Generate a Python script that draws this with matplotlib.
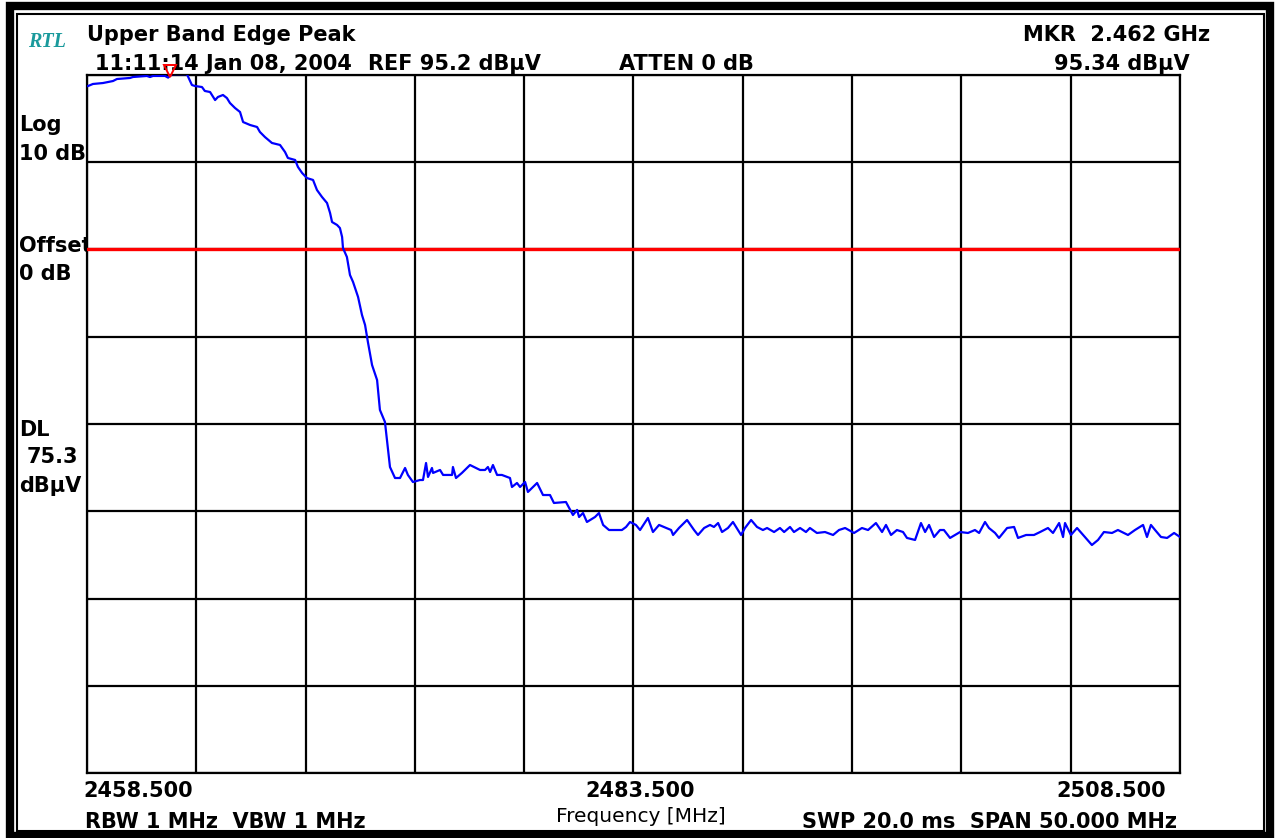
#!/usr/bin/env python3

import numpy as np
import matplotlib
matplotlib.use("Agg")

import matplotlib.pyplot as plt
from matplotlib.patches import Rectangle

# analyser settings shown on the screen
f_start = 2458.5
f_stop = 2508.5
ref_level = 95.2
db_per_div = 10
n_div_x = 10
n_div_y = 8
display_line = 75.3
marker_freq = 2462.3
marker_level = 95.34

# trace (MHz, dBuV)
freq = [
    2458.55, 2458.77, 2459.23, 2459.46, 2459.69, 2459.87, 2460.47, 2460.60,
    2461.24, 2461.38, 2461.52, 2462.07, 2462.21, 2462.39, 2463.07, 2463.30,
    2463.44, 2463.76, 2463.89, 2464.13, 2464.36, 2464.49, 2464.72, 2464.90,
    2465.04, 2465.27, 2465.50, 2465.64, 2465.96, 2466.28, 2466.41, 2466.64,
    2466.96, 2467.33, 2467.56, 2467.69, 2468.02, 2468.15, 2468.34, 2468.56,
    2468.84, 2469.02, 2469.25, 2469.48, 2469.62, 2469.71, 2469.94, 2470.07,
    2470.17, 2470.21, 2470.39, 2470.53, 2470.67, 2470.90, 2471.08, 2471.22,
    2471.35, 2471.54, 2471.77, 2471.90, 2472.13, 2472.22, 2472.36, 2472.59,
    2472.82, 2473.05, 2473.18, 2473.41, 2473.73, 2473.87, 2474.01, 2474.10,
    2474.28, 2474.33, 2474.65, 2474.79, 2475.20, 2475.24, 2475.38, 2475.65,
    2476.02, 2476.48, 2476.71, 2476.84, 2476.94, 2477.07, 2477.26, 2477.48,
    2477.85, 2477.94, 2478.17, 2478.31, 2478.54, 2478.67, 2479.09, 2479.36,
    2479.68, 2479.86, 2480.41, 2480.73, 2480.92, 2481.01, 2481.19, 2481.37,
    2481.74, 2481.92, 2482.11, 2482.38, 2482.97, 2483.16, 2483.34, 2483.61,
    2483.80, 2484.16, 2484.39, 2484.67, 2485.22, 2485.31, 2485.58, 2485.95,
    2486.27, 2486.45, 2486.73, 2487.00, 2487.18, 2487.37, 2487.55, 2487.82,
    2488.05, 2488.42, 2488.60, 2488.88, 2489.15, 2489.42, 2489.61, 2489.93,
    2490.20, 2490.39, 2490.66, 2490.84, 2491.12, 2491.39, 2491.57, 2491.89,
    2492.26, 2492.63, 2492.90, 2493.18, 2493.59, 2493.95, 2494.23, 2494.59,
    2494.87, 2495.05, 2495.28, 2495.55, 2495.83, 2496.01, 2496.38, 2496.65,
    2496.84, 2497.02, 2497.25, 2497.52, 2497.70, 2497.98, 2498.44, 2498.80,
    2499.12, 2499.31, 2499.58, 2499.76, 2500.04, 2500.22, 2500.59, 2500.91,
    2501.09, 2501.46, 2501.82, 2502.10, 2502.46, 2502.69, 2502.97, 2503.15,
    2503.24, 2503.51, 2503.79, 2504.15, 2504.47, 2504.75, 2505.02, 2505.39,
    2505.66, 2505.85, 2506.12, 2506.44, 2506.81, 2506.99, 2507.17, 2507.36,
    2507.63, 2507.91, 2508.23, 2508.50,
]
level = [
    93.94, 94.17, 94.28, 94.40, 94.51, 94.74, 94.86, 94.97,
    95.09, 94.97, 95.09, 95.09, 94.90, 95.30, 95.30, 94.05,
    93.94, 93.82, 93.37, 93.25, 92.33, 92.68, 92.91, 92.56,
    91.99, 91.42, 90.96, 89.81, 89.47, 89.24, 88.67, 88.09,
    87.41, 87.18, 86.37, 85.69, 85.46, 84.66, 83.97, 83.39,
    83.17, 82.02, 81.22, 80.53, 79.38, 78.35, 78.01, 77.66,
    76.63, 75.37, 74.34, 72.28, 71.48, 69.76, 67.69, 66.55,
    64.60, 61.96, 60.24, 56.81, 55.43, 53.37, 50.27, 49.01,
    49.01, 50.16, 49.36, 48.55, 48.78, 48.78, 50.73, 49.13,
    50.16, 49.59, 49.93, 49.36, 49.36, 50.27, 49.01, 49.59,
    50.50, 49.93, 49.93, 50.27, 49.70, 50.50, 49.36, 49.36,
    49.01, 47.98, 48.44, 47.98, 48.55, 47.41, 48.44, 47.06,
    47.06, 46.15, 46.26, 44.77, 45.35, 44.54, 45.00, 43.97,
    44.54, 45.00, 43.63, 43.05, 43.05, 43.40, 43.97, 43.63,
    43.05, 44.43, 42.82, 43.63, 43.05, 42.48, 43.28, 44.20,
    43.05, 42.48, 43.28, 43.63, 43.40, 43.85, 42.82, 43.28,
    43.97, 42.48, 43.28, 44.20, 43.40, 43.05, 43.28, 42.82,
    43.28, 42.82, 43.40, 42.82, 43.28, 42.82, 43.28, 42.71,
    42.82, 42.48, 43.05, 43.28, 42.71, 43.28, 43.05, 43.85,
    42.82, 43.63, 42.48, 43.05, 42.82, 42.14, 41.91, 43.85,
    42.82, 43.63, 42.25, 43.05, 43.05, 42.14, 42.82, 42.71,
    43.05, 42.71, 43.97, 43.28, 42.71, 42.14, 43.28, 43.40,
    42.14, 42.48, 42.48, 42.82, 43.28, 42.71, 43.85, 42.25,
    43.85, 42.48, 43.28, 42.25, 41.33, 41.91, 42.82, 42.71,
    43.05, 42.82, 42.48, 43.05, 43.63, 42.25, 43.63, 43.05,
    42.25, 42.14, 42.71, 42.25,
]

W, H = 1275, 838
fig = plt.figure(figsize=(W / 100, H / 100), dpi=100)

# full-figure layer in pixel coordinates for the screen border and annotations
bg = fig.add_axes([0, 0, 1, 1])
bg.set_xlim(0, W)
bg.set_ylim(H, 0)
bg.axis("off")
bg.add_patch(Rectangle((9.5, 6.5), 1260, 829.5, fill=False, lw=6, ec="black"))
bg.add_patch(Rectangle((17, 14.5), 1247, 816.5, fill=False, lw=1.5, ec="black"))

font = "DejaVu Sans"
kw = dict(family=font, fontsize=15, fontweight="bold", va="baseline")

bg.text(28, 47, "RTL", family="Liberation Serif", fontsize=14.5, fontweight="bold",
        style="italic", color="#1a9a9c", va="baseline")
bg.text(87, 41, "Upper Band Edge Peak", **kw)
bg.text(95, 70, "11:11:14 Jan 08, 2004", **kw)
bg.text(368, 70, "REF %.1f dB\u00b5V" % ref_level, **kw)
bg.text(619, 70, "ATTEN 0 dB", **kw)
bg.text(1210, 41, "MKR  %.3f GHz" % (np.floor(marker_freq) / 1000), ha="right", **kw)
bg.text(1190, 70, "%.2f dB\u00b5V" % marker_level, ha="right", **kw)

bg.text(19, 131, "Log", **kw)
bg.text(19, 160, "%d dB" % db_per_div, **kw)
bg.text(19, 252, "Offset", **kw)
bg.text(19, 280, "0 dB", **kw)
bg.text(19, 436, "DL", **kw)
bg.text(27, 463, "%.1f" % display_line, **kw)
bg.text(19, 492, "dB\u00b5V", **kw)

bg.text(83, 797, "%.3f" % f_start, **kw)
bg.text(640, 797, "%.3f" % ((f_start + f_stop) / 2), ha="center", **kw)
bg.text(1166, 797, "%.3f" % f_stop, ha="right", **kw)
bg.text(85, 828, "RBW 1 MHz  VBW 1 MHz", **kw)
bg.text(641, 822, "Frequency [MHz]", family=font, fontsize=14.5, ha="center", va="baseline")
bg.text(1177, 828, "SWP 20.0 ms  SPAN %.3f MHz" % (f_stop - f_start), ha="right", **kw)

# the graticule
ax = fig.add_axes([87 / W, (H - 773) / H, (1180 - 87) / W, (773 - 75) / H])
bottom = ref_level - n_div_y * db_per_div
ax.set_xlim(f_start, f_stop)
ax.set_ylim(bottom, ref_level)
ax.set_xticks(np.linspace(f_start, f_stop, n_div_x + 1))
ax.set_yticks(np.linspace(bottom, ref_level, n_div_y + 1))
ax.tick_params(length=0, labelbottom=False, labelleft=False)
ax.grid(True, color="black", lw=1.6)
for s in ax.spines.values():
    s.set_linewidth(1.6)

ax.axhline(display_line, color="#ff0000", lw=2.4, zorder=3)
ax.plot(freq, level, color="#0000ff", lw=1.6, zorder=4)
ax.plot([marker_freq], [marker_level + 0.3], marker="v", ms=8.5, mfc="none",
        mec="#ff0000", mew=1.4, clip_on=False, zorder=5)

plt.savefig("out.png", dpi=100)
